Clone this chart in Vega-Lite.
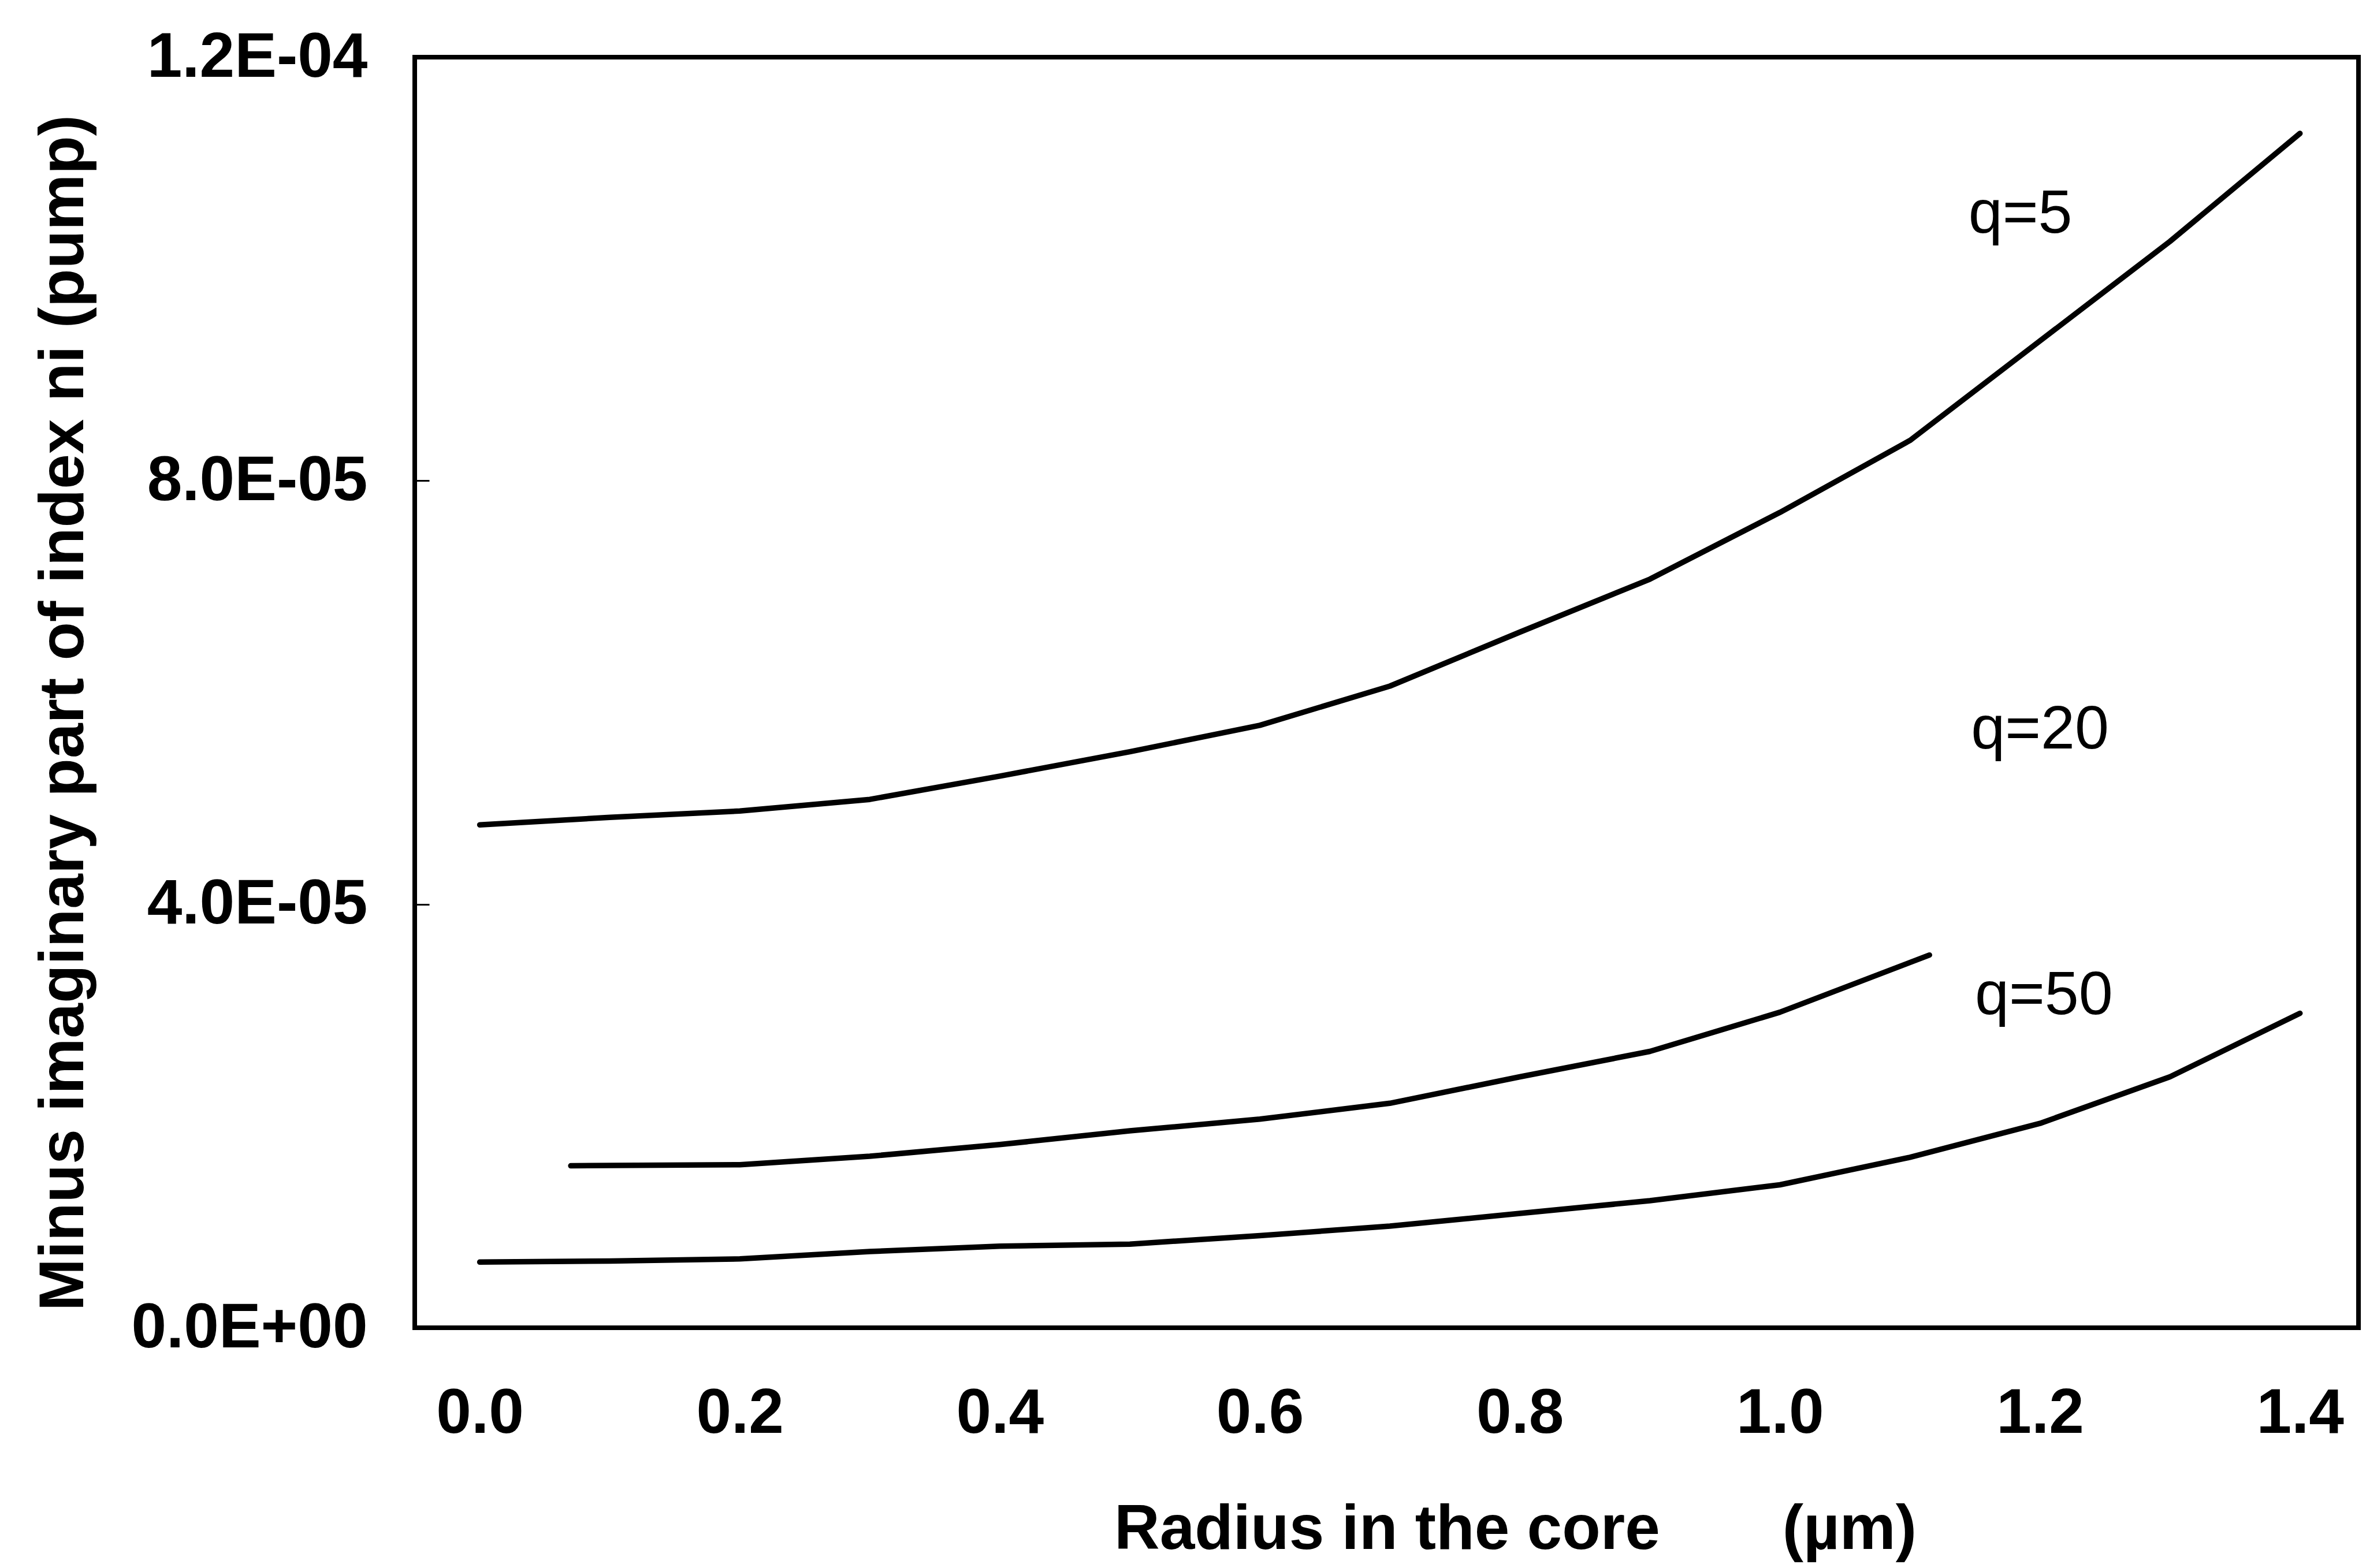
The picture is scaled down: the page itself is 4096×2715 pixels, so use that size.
{
  "$schema": "https://vega.github.io/schema/vega-lite/v6.json",
  "width": 3365,
  "height": 2200,
  "autosize": {"type": "none"},
  "padding": {"left": 718, "top": 99, "right": 13, "bottom": 416},
  "background": "white",
  "config": {
    "view": {"stroke": "black", "strokeWidth": 8},
    "font": "Liberation Sans"
  },
  "datasets": {
    "curves": [
      {"series": "q=5", "r": 0.0, "ni": 4.75e-5},
      {"series": "q=5", "r": 0.1, "ni": 4.82e-5},
      {"series": "q=5", "r": 0.2, "ni": 4.88e-5},
      {"series": "q=5", "r": 0.3, "ni": 4.99e-5},
      {"series": "q=5", "r": 0.4, "ni": 5.21e-5},
      {"series": "q=5", "r": 0.5, "ni": 5.44e-5},
      {"series": "q=5", "r": 0.6, "ni": 5.69e-5},
      {"series": "q=5", "r": 0.7, "ni": 6.06e-5},
      {"series": "q=5", "r": 0.8, "ni": 6.57e-5},
      {"series": "q=5", "r": 0.9, "ni": 7.07e-5},
      {"series": "q=5", "r": 1.0, "ni": 7.70e-5},
      {"series": "q=5", "r": 1.1, "ni": 8.38e-5},
      {"series": "q=5", "r": 1.2, "ni": 9.32e-5},
      {"series": "q=5", "r": 1.3, "ni": 10.26e-5},
      {"series": "q=5", "r": 1.4, "ni": 11.28e-5},
      {"series": "q=20", "r": 0.07, "ni": 1.53e-5},
      {"series": "q=20", "r": 0.2, "ni": 1.54e-5},
      {"series": "q=20", "r": 0.3, "ni": 1.62e-5},
      {"series": "q=20", "r": 0.4, "ni": 1.73e-5},
      {"series": "q=20", "r": 0.5, "ni": 1.86e-5},
      {"series": "q=20", "r": 0.6, "ni": 1.97e-5},
      {"series": "q=20", "r": 0.7, "ni": 2.12e-5},
      {"series": "q=20", "r": 0.8, "ni": 2.37e-5},
      {"series": "q=20", "r": 0.9, "ni": 2.61e-5},
      {"series": "q=20", "r": 1.0, "ni": 2.98e-5},
      {"series": "q=20", "r": 1.115, "ni": 3.52e-5},
      {"series": "q=50", "r": 0.0, "ni": 0.62e-5},
      {"series": "q=50", "r": 0.1, "ni": 0.63e-5},
      {"series": "q=50", "r": 0.2, "ni": 0.65e-5},
      {"series": "q=50", "r": 0.3, "ni": 0.72e-5},
      {"series": "q=50", "r": 0.4, "ni": 0.77e-5},
      {"series": "q=50", "r": 0.5, "ni": 0.79e-5},
      {"series": "q=50", "r": 0.6, "ni": 0.87e-5},
      {"series": "q=50", "r": 0.7, "ni": 0.96e-5},
      {"series": "q=50", "r": 0.8, "ni": 1.08e-5},
      {"series": "q=50", "r": 0.9, "ni": 1.20e-5},
      {"series": "q=50", "r": 1.0, "ni": 1.35e-5},
      {"series": "q=50", "r": 1.1, "ni": 1.61e-5},
      {"series": "q=50", "r": 1.2, "ni": 1.93e-5},
      {"series": "q=50", "r": 1.3, "ni": 2.37e-5},
      {"series": "q=50", "r": 1.4, "ni": 2.97e-5}
    ],
    "labels": [
      {"text": "q=5", "r": 1.145, "ni": 10.34e-5},
      {"text": "q=20", "r": 1.147, "ni": 5.47e-5},
      {"text": "q=50", "r": 1.150, "ni": 2.96e-5}
    ]
  },
  "layer": [
    {
      "data": {"name": "curves"},
      "mark": {"type": "line", "color": "black", "strokeWidth": 9.5, "strokeJoin": "round", "strokeCap": "round", "clip": true},
      "encoding": {
        "x": {
          "field": "r",
          "type": "quantitative",
          "scale": {"domain": [-0.05, 1.445], "nice": false, "zero": false},
          "axis": {
            "orient": "bottom",
            "values": [0, 0.2, 0.4, 0.6, 0.8, 1.0, 1.2, 1.4],
            "format": ".1f",
            "ticks": false,
            "domain": false,
            "grid": false,
            "labelFont": "Liberation Sans",
            "labelFontWeight": "bold",
            "labelFontSize": 109,
            "labelColor": "black",
            "labelBaseline": "alphabetic",
            "labelPadding": 181,
            "labelLimit": 0,
            "labelFlush": false,
            "labelOverlap": false,
            "title": "Radius in the core\u00a0\u00a0\u00a0\u00a0\u00a0\u00a0 (µm)",
            "titleFont": "Liberation Sans",
            "titleFontWeight": "bold",
            "titleFontSize": 109,
            "titleColor": "black",
            "titleLimit": 0,
            "titleX": 1905,
            "titleY": 382,
            "titleAlign": "center",
            "titleBaseline": "alphabetic"
          }
        },
        "y": {
          "field": "ni",
          "type": "quantitative",
          "scale": {"domain": [0, 0.00012], "nice": false, "zero": true},
          "axis": {
            "orient": "left",
            "values": [0, 0.00004, 0.00008, 0.00012],
            "labelExpr": "replace(replace(format(datum.value, '.1e'), 'e-', 'E-0'), 'e+', 'E+0')",
            "ticks": true,
            "tickSize": -25,
            "tickWidth": 3,
            "tickColor": "black",
            "domain": false,
            "grid": false,
            "labelFont": "Liberation Sans",
            "labelFontWeight": "bold",
            "labelFontSize": 109,
            "labelColor": "black",
            "labelPadding": 107,
            "labelLimit": 0,
            "labelFlush": false,
            "labelOverlap": false,
            "title": "Minus imaginary part of index ni (pump)",
            "titleFont": "Liberation Sans",
            "titleFontWeight": "bold",
            "titleFontSize": 109,
            "titleColor": "black",
            "titleLimit": 0,
            "titleAngle": -90,
            "titleX": -575,
            "titleY": 1135,
            "titleAlign": "center",
            "titleBaseline": "alphabetic"
          }
        },
        "detail": {"field": "series", "type": "nominal"},
        "order": {"field": "r", "type": "quantitative"}
      }
    },
    {
      "data": {"name": "labels"},
      "mark": {"type": "text", "font": "Liberation Sans", "fontSize": 106, "fontWeight": "normal", "align": "left", "baseline": "alphabetic", "color": "black"},
      "encoding": {
        "x": {"field": "r", "type": "quantitative"},
        "y": {"field": "ni", "type": "quantitative"},
        "text": {"field": "text", "type": "nominal"}
      }
    }
  ]
}
